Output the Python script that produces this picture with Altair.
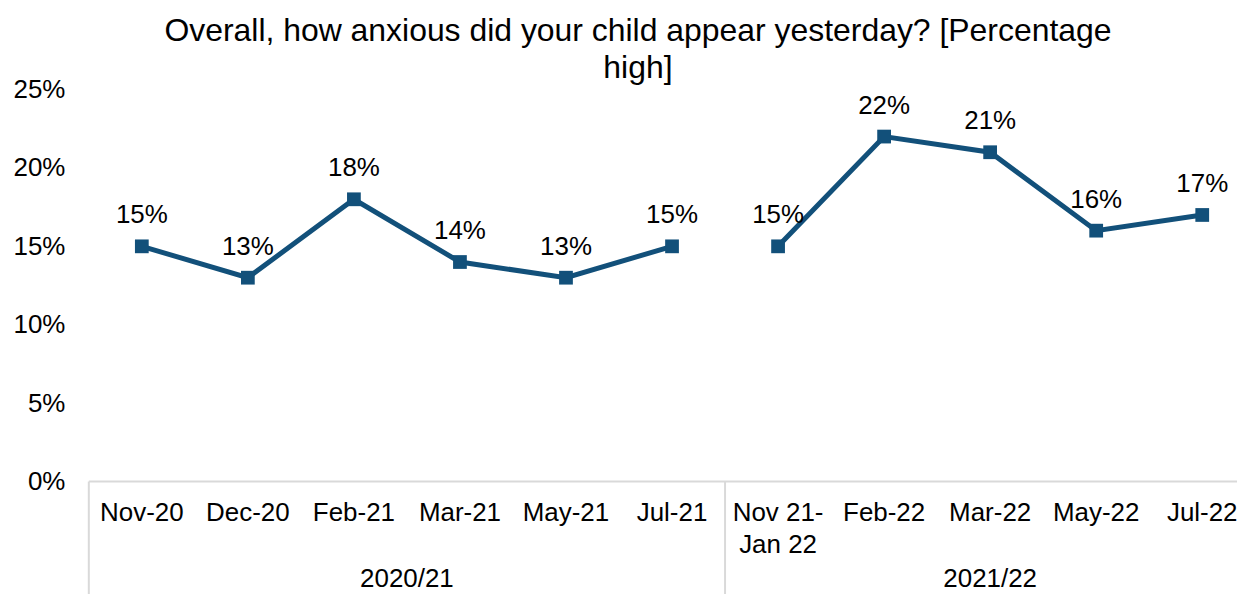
import altair as alt
import pandas as pd

# ---- data ----
months = ["Nov-20", "Dec-20", "Feb-21", "Mar-21", "May-21", "Jul-21",
          "Nov 21-\nJan 22", "Feb-22", "Mar-22", "May-22", "Jul-22"]
values = [15, 13, 18, 14, 13, 15, 15, 22, 21, 16, 17]
periods = ["2020/21", "2020/21", "2020/21", "2020/21", "2020/21", "2020/21",
           "2021/22", "2021/22", "2021/22", "2021/22", "2021/22"]
y_ticks = [0, 5, 10, 15, 20, 25]
title_lines = ["Overall, how anxious did your child appear yesterday? [Percentage", "high]"]

FONT = "Liberation Sans"
COLOR = "#12507A"
GRAY = "#D9D9D9"

W, H = 1151, 393
BAND = 106.3
x_max = -0.5 + W / BAND
px_per_unit = H / 25.0

df = pd.DataFrame({"idx": list(range(len(months))), "month": months,
                   "value": values, "period": periods})
df["label"] = df["value"].astype(str) + "%"
df["ylab"] = -19 / px_per_unit

grp = df.groupby("period", as_index=False)["idx"].mean()
grp["ylab"] = -85 / px_per_unit

bounds = df.groupby("period", as_index=False)["idx"].min()
bounds["xb"] = bounds["idx"] - 0.5
bounds["ya"] = 0.0
bounds["yb"] = -8.0

axis_line = pd.DataFrame({"xa": [-0.5], "xb": [x_max], "ya": [0.0]})

xs = alt.Scale(domain=[-0.5, x_max], nice=False, zero=False)
ys = alt.Scale(domain=[0, 25], nice=False, zero=True)
yaxis = alt.Axis(values=y_ticks, labelExpr="datum.value + '%'", title=None,
                 domain=False, ticks=False, grid=False, labelPadding=24,
                 labelFontSize=26, labelFont=FONT, labelColor="black")


def X(f):
    return alt.X(f, scale=xs, axis=None)


def Y(f):
    return alt.Y(f, scale=ys, axis=yaxis)


base = alt.Chart(df)

line = base.mark_line(color=COLOR, strokeWidth=5).encode(
    x=X("idx:Q"), y=Y("value:Q"), detail="period:N")

pts = base.mark_square(color=COLOR, size=190, opacity=1).encode(
    x=X("idx:Q"), y=Y("value:Q"))

labels = base.mark_text(fontSize=26, font=FONT, color="black", dy=-31, baseline="middle").encode(
    x=X("idx:Q"), y=Y("value:Q"), text="label:N")

month_text = base.mark_text(fontSize=26, font=FONT, color="black", baseline="top",
                            lineBreak="\n", lineHeight=32).encode(
    x=X("idx:Q"), y=Y("ylab:Q"), text="month:N")

grp_text = alt.Chart(grp).mark_text(fontSize=26, font=FONT, color="black", baseline="top").encode(
    x=X("idx:Q"), y=Y("ylab:Q"), text="period:N")

seps = alt.Chart(bounds).mark_rule(color=GRAY, strokeWidth=2).encode(
    x=X("xb:Q"), y=Y("ya:Q"), y2="yb:Q")

aline = alt.Chart(axis_line).mark_rule(color=GRAY, strokeWidth=2).encode(
    x=X("xa:Q"), x2="xb:Q", y=Y("ya:Q"))

chart = alt.layer(aline, seps, line, pts, labels, month_text, grp_text).properties(
    width=W, height=H,
    autosize=alt.AutoSizeParams(type="none"),
    padding={"left": 81, "top": 81, "right": 0, "bottom": 112},
    title=alt.TitleParams(text=title_lines, fontSize=32, font=FONT, fontWeight="normal",
                          color="black", anchor="middle", dx=-25, dy=14, lineHeight=37, offset=6),
).configure_view(stroke=None)

chart.save("out.html", embed_options={"renderer": "svg", "actions": False})
